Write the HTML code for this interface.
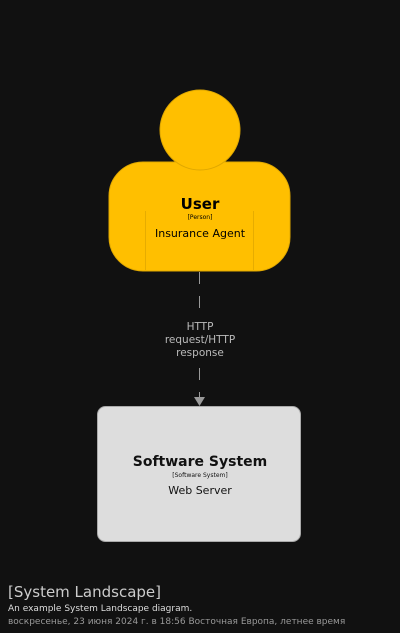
<!DOCTYPE html>
<html><head><meta charset="utf-8"><style>
html,body{margin:0;padding:0;background:#111111;width:400px;height:633px;overflow:hidden}
svg{display:block}
text{font-family:"DejaVu Sans","Liberation Sans",sans-serif}
</style></head><body>
<svg width="400" height="633" viewBox="0 0 400 633">
<rect width="400" height="633" fill="#111111"/>
<rect x="109" y="162" width="181" height="109" rx="34" fill="#FFBF00" stroke="#E0A800" stroke-width="1"/>
<circle cx="200" cy="130" r="40" fill="#FFBF00" stroke="#E0A800" stroke-width="1"/>
<line x1="145.5" y1="211" x2="145.5" y2="270" stroke="#E6AC00" stroke-width="1"/>
<line x1="253.5" y1="211" x2="253.5" y2="270" stroke="#E6AC00" stroke-width="1"/>
<text x="200" y="209" text-anchor="middle" font-size="15" font-weight="bold" fill="#000">User</text>
<text x="200" y="219" text-anchor="middle" font-size="6" fill="#000">[Person]</text>
<text x="200" y="237" text-anchor="middle" font-size="11" fill="#000">Insurance Agent</text>
<line x1="199.5" y1="272" x2="199.5" y2="398" stroke="#999" stroke-width="1" stroke-dasharray="12,12"/>
<rect x="160" y="316" width="80" height="42" fill="#111111"/>
<polygon points="194,397 205,397 199.5,406" fill="#999"/>
<text x="200" y="330" text-anchor="middle" font-size="10.5" fill="#bbb">HTTP</text>
<text x="200" y="343" text-anchor="middle" font-size="10.5" fill="#bbb">request/HTTP</text>
<text x="200" y="356" text-anchor="middle" font-size="10.5" fill="#bbb">response</text>
<rect x="97.5" y="406.5" width="203" height="135" rx="8" fill="#DDDDDD" stroke="#AAAAAA" stroke-width="1"/>
<text x="200" y="466" text-anchor="middle" font-size="14" font-weight="bold" fill="#111">Software System</text>
<text x="200" y="477" text-anchor="middle" font-size="6" fill="#111">[Software System]</text>
<text x="200" y="494" text-anchor="middle" font-size="11" fill="#111">Web Server</text>
<text x="8" y="597" font-size="15" fill="#ccc">[System Landscape]</text>
<text x="8" y="611" font-size="9" fill="#ddd">An example System Landscape diagram.</text>
<text x="8" y="624" font-size="9" fill="#999">воскресенье, 23 июня 2024 г. в 18:56 Восточная Европа, летнее время</text>
</svg>
</body></html>
